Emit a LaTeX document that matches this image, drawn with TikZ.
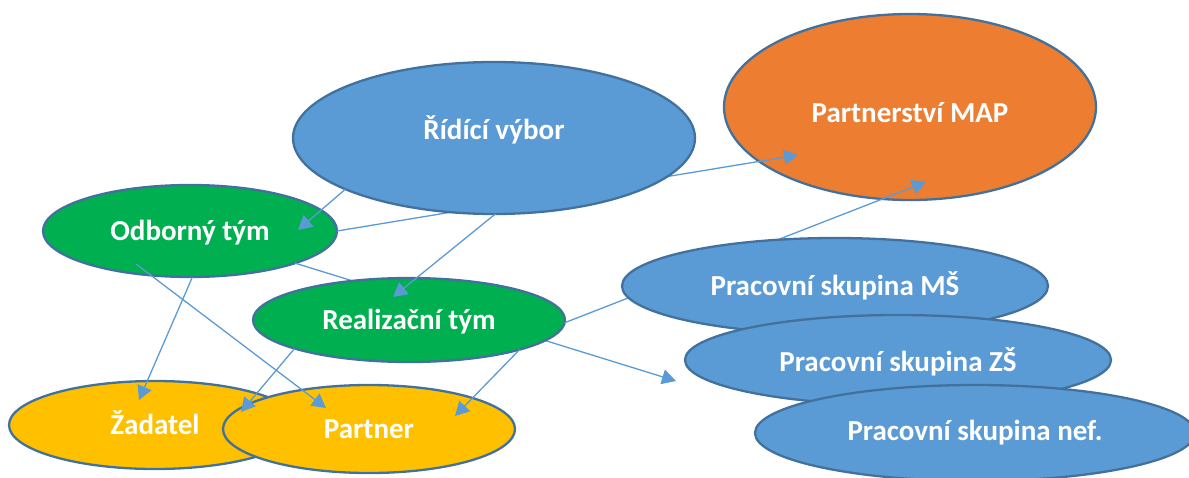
\documentclass[tikz,border=0pt]{standalone}
\usepackage{fontspec}
\setmainfont{Carlito}
\usetikzlibrary{shapes.geometric,arrows.meta}
\definecolor{pblue}{HTML}{5B9BD5}
\definecolor{pedge}{HTML}{41719C}
\definecolor{pgreen}{HTML}{00B050}
\definecolor{porange}{HTML}{ED7D31}
\definecolor{pyellow}{HTML}{FFC000}
\begin{document}
\begin{tikzpicture}[x=1pt,y=-1pt,
  oval/.style={ellipse,draw=pedge,line width=2.3pt,inner sep=0pt,outer sep=0pt,
    text=white,font=\fontsize{29}{34}\selectfont\bfseries,
    text height=18.5pt,text depth=0pt},
  conn/.style={draw=pblue,line width=1.3pt},
  arr/.style={conn,-{Triangle[length=14pt,width=15pt]}}]
\useasboundingbox (0,0) rectangle (1189,477);
\clip (0,0) rectangle (1189,477);
% tip coordinates
\coordinate (tP1) at (798,155);
\coordinate (tZS) at (676,381);
\coordinate (tP2) at (926,182);
\coordinate (tO) at (298,230);
\coordinate (tR) at (393,297);
\coordinate (tZ1) at (139,400);
\coordinate (sO2) at (136,264);
\coordinate (tPa1) at (326,408);
\coordinate (tZ2) at (241,412);
\coordinate (tPa2) at (455,416);

\node[oval,fill=porange,minimum width=372pt,minimum height=186pt,text height=31pt] (pm) at (910,107) {Partnerství MAP};
\node[oval,fill=pgreen,minimum width=294pt,minimum height=92pt] (odb) at (190,231) {Odborný tým};
\draw[arr] (odb.east) -- (tP1);
\node[oval,fill=pblue,minimum width=402pt,minimum height=152pt,text depth=15pt] (rv) at (494,138) {Řídící výbor};
\draw[arr] (odb.-17.3) -- (tZS);
\node[oval,fill=pgreen,minimum width=312pt,minimum height=84pt] (real) at (409,320) {Realizační tým};
\draw[arr] (real.-1) -- (tP2);
\node[oval,fill=pblue,minimum width=426pt,minimum height=96pt] (ms) at (835,286) {Pracovní skupina MŠ};
\node[oval,fill=pblue,minimum width=426pt,minimum height=90pt,text height=22pt] (zs) at (898,360) {Pracovní skupina ZŠ};
\node[oval,fill=pblue,minimum width=440pt,minimum height=96pt,text height=14pt] (nef) at (975,433) {Pracovní skupina nef.};
\node[oval,fill=pyellow,minimum width=292pt,minimum height=88pt] (zad) at (155,425) {Žadatel};
\node[oval,fill=pyellow,minimum width=292pt,minimum height=88pt] (par) at (369,429) {Partner};

\draw[arr] (rv.199.5) -- (tO);
\draw[arr] (rv.-89) -- (tR);
\draw[arr] (odb.-87) -- (tZ1);
\draw[arr] (sO2) -- (tPa1);
\draw[arr] (real.194.7) -- (tZ2);
\draw[arr] (real.-15) -- (tPa2);
\end{tikzpicture}
\end{document}
